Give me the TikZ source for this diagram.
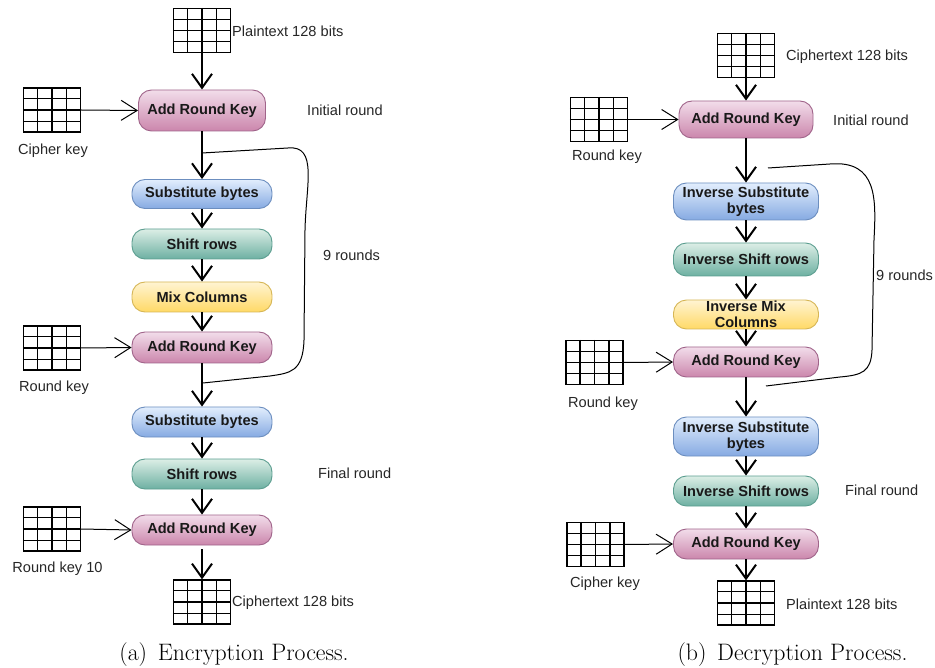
\documentclass[tikz,border=0pt]{standalone}
\usepackage{fontspec}
\usetikzlibrary{arrows.meta,calc}
\newfontfamily\sansf{Liberation Sans}
\newcommand\boxfont{\sansf\bfseries\fontsize{14.6}{16}\selectfont}
\newcommand\lblfont{\sansf\fontsize{14.6}{16}\selectfont}
\newcommand\capfont{\fontsize{23.8}{28}\selectfont}
\definecolor{arkT}{HTML}{F2DDEA}
\definecolor{arkB}{HTML}{CB86AC}
\definecolor{arkD}{HTML}{A0648A}
\definecolor{subT}{HTML}{E2EEFD}
\definecolor{subB}{HTML}{86AAE2}
\definecolor{subD}{HTML}{6C8EBF}
\definecolor{shfT}{HTML}{DCEEE6}
\definecolor{shfB}{HTML}{6DB0A2}
\definecolor{shfD}{HTML}{5C9E90}
\definecolor{mixT}{HTML}{FFF4D2}
\definecolor{mixB}{HTML}{FFD966}
\definecolor{mixD}{HTML}{D6B656}
\tikzset{
  box/.style={rounded corners=13pt, draw, line width=0.9pt, minimum width=140pt,
    font=\boxfont, inner sep=0pt, align=center, text=black!90},
  ark/.style={box, top color=arkT, bottom color=arkB, draw=arkD},
  subb/.style={box, top color=subT, bottom color=subB, draw=subD},
  shf/.style={box, top color=shfT, bottom color=shfB, draw=shfD},
  mix/.style={box, top color=mixT, bottom color=mixB, draw=mixD},
  keygrid/.style={draw, line width=1.3pt, minimum width=57pt, minimum height=44pt, inner sep=0pt},
  gridline/.style={line width=1.3pt},
  flow/.style={line width=2pt, -{Straight Barb[length=14pt,width=20pt]}},
  feed/.style={line width=1pt, -{Straight Barb[length=16pt,width=20pt]}},
  loop/.style={line width=1pt},
  lbl/.style={font=\lblfont, text=black!85, inner sep=0pt},
}
\begin{document}
\begin{tikzpicture}[x=1pt,y=-1pt]
\useasboundingbox (0,0) rectangle (935,668);

% ---------------- Encryption ----------------
\node[keygrid] (ept) at (202,30.5) {};
\node[lbl, anchor=west] (eptl) at (232,31) {Plaintext 128 bits};
\node[ark, minimum width=127pt, minimum height=41pt] (eark1) at (202,110.5) {Add Round Key};
\node[lbl, anchor=west] (einit) at (307,110) {Initial round};
\node[keygrid] (eck) at (52,110) {};
\node[lbl] (eckl) at (53,151) {Cipher key};

\node[subb, minimum height=29pt] (esub1) at (202,194) {Substitute bytes};
\node[shf, minimum height=30pt] (eshf1) at (202,244) {Shift rows};
\node[mix, minimum height=30pt] (emix) at (202,297) {Mix Columns};
\node[ark, minimum height=31pt] (eark2) at (202,347.5) {Add Round Key};
\node[keygrid] (erk) at (52,348) {};
\node[lbl] (erkl) at (54,388) {Round key};
\node[lbl, anchor=west] (enine) at (323,255) {9 rounds};

\node[subb, minimum height=30pt] (esub2) at (202,422) {Substitute bytes};
\node[shf, minimum height=30pt] (eshf2) at (202,474) {Shift rows};
\node[lbl, anchor=west] (efin) at (318,473) {Final round};
\node[ark, minimum height=30pt] (eark3) at (202,530) {Add Round Key};
\node[keygrid] (erk10) at (52,529) {};
\node[lbl] (erk10l) at (57.5,569) {Round key 10};
\node[keygrid] (ect) at (202,602) {};
\node[lbl, anchor=west] (ectl) at (232,603) {Ciphertext 128 bits};

\draw[flow] (ept) -- (eark1);
\draw[feed] (eck.east) -- (eark1.west);
\draw[flow] (eark1) -- (esub1);
\draw[flow] (esub1) -- (eshf1);
\draw[flow] (eshf1) -- (emix);
\draw[flow] (emix) -- (eark2);
\draw[feed] (erk.east) -- (eark2.west);
\draw[flow] (eark2) -- (esub2);
\draw[flow] (esub2) -- (eshf2);
\draw[flow] (eshf2) -- (eark3);
\draw[feed] (erk10.east) -- (eark3.west);
\draw[flow] ($(eark3.south)+(0,4)$) -- (ect);

\coordinate (eloopa) at (202,153);
\coordinate (eloopb) at (203,383);
\draw[loop] (eloopa) -- (288,148)
  .. controls (318,145) and (306,185) .. (305,230)
  -- (304,340)
  .. controls (303,372) and (290,373) .. (270,376)
  -- (eloopb);

\node[font=\capfont] (ecap) at (234,655) {(a)\hspace{0.45em}Encryption Process.};

% ---------------- Decryption ----------------
\node[keygrid] (dct) at (746,55.5) {};
\node[lbl, anchor=west] (dctl) at (786,57) {Ciphertext 128 bits};
\node[ark, minimum width=134pt, minimum height=37pt] (dark1) at (746,119.5) {Add Round Key};
\node[lbl, anchor=west] (dinit) at (833,120) {Initial round};
\node[keygrid] (drk1) at (599,119.5) {};
\node[lbl] (drk1l) at (607,157) {Round key};

\node[subb, minimum width=145pt, minimum height=37pt] (dsub1) at (746,201.5) {Inverse Substitute\\bytes};
\node[shf, minimum width=145pt, minimum height=33pt] (dshf1) at (746,259.5) {Inverse Shift rows};
\node[mix, minimum width=145pt, minimum height=29pt] (dmix) at (746,314.5) {Inverse Mix\\Columns};
\node[ark, minimum width=145pt, minimum height=30pt] (dark2) at (746,362) {Add Round Key};
\node[keygrid] (drk2) at (594.5,362.5) {};
\node[lbl] (drk2l) at (603,404) {Round key};
\node[lbl, anchor=west] (dnine) at (876,275) {9 rounds};

\node[subb, minimum width=145pt, minimum height=39pt] (dsub2) at (746,436.5) {Inverse Substitute\\bytes};
\node[shf, minimum width=145pt, minimum height=30pt] (dshf2) at (746,491) {Inverse Shift rows};
\node[lbl, anchor=west] (dfin) at (845,490) {Final round};
\node[ark, minimum width=145pt, minimum height=30pt] (dark3) at (746,544) {Add Round Key};
\node[keygrid] (dck) at (595.5,544.5) {};
\node[lbl] (dckl) at (605,584) {Cipher key};
\node[keygrid] (dpt) at (746,603) {};
\node[lbl, anchor=west] (dptl) at (786,604) {Plaintext 128 bits};

\draw[flow] (dct) -- (dark1);
\draw[feed] (drk1.east) -- (dark1.west);
\draw[flow] (dark1) -- (dsub1);
\draw[flow] (dsub1) -- (dshf1);
\draw[flow] (dshf1) -- (dmix);
\draw[flow] (dmix) -- (dark2);
\draw[feed] (drk2.east) -- (dark2.west);
\draw[flow] (dark2) -- (dsub2);
\draw[flow] (dsub2) -- (dshf2);
\draw[flow] (dshf2) -- (dark3);
\draw[feed] (dck.east) -- (dark3.west);
\draw[flow] (dark3) -- (dpt);

\coordinate (dloopa) at (768,168);
\coordinate (dloopb) at (766,386);
\draw[loop] (dloopa) -- (830,164)
  .. controls (878,160) and (876,200) .. (874,240)
  -- (872,350)
  .. controls (871,372) and (862,375) .. (840,377)
  -- (dloopb);

\node[font=\capfont] (dcap) at (792.5,655) {(b)\hspace{0.45em}Decryption Process.};

% 4x4 cells inside every key/text block
\foreach \g in {ept,eck,erk,erk10,ect,dct,drk1,drk2,dck,dpt}{
  \foreach \f in {0.25,0.5,0.75}{
    \draw[gridline] ($(\g.north west)!\f!(\g.north east)$) -- ($(\g.south west)!\f!(\g.south east)$);
    \draw[gridline] ($(\g.north west)!\f!(\g.south west)$) -- ($(\g.north east)!\f!(\g.south east)$);
  }
}
\end{tikzpicture}
\end{document}
